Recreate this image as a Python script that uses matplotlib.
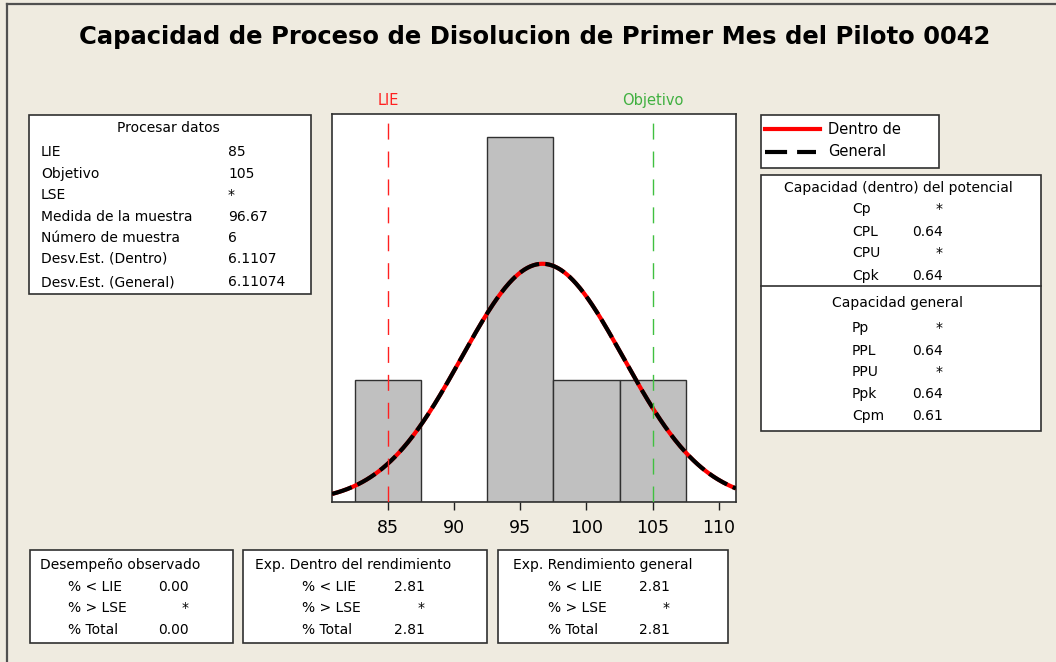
import numpy as np
import matplotlib
matplotlib.use("Agg")
import matplotlib.pyplot as plt
from matplotlib.patches import Rectangle
from matplotlib.lines import Line2D

# --- data ---
bin_edges = [82.5, 87.5, 92.5, 97.5, 102.5, 107.5]
bin_counts = [1, 0, 3, 1, 1]
mean = 96.67
sd_within = 6.1107
sd_overall = 6.11074
n_obs = 6
lie = 85
target = 105
xticks = [85, 90, 95, 100, 105, 110]

process_labels = ["LIE", "Objetivo", "LSE", "Medida de la muestra", "Número de muestra",
                  "Desv.Est. (Dentro)", "Desv.Est. (General)"]
process_values = ["85", "105", "*", "96.67", "6", "6.1107", "6.11074"]

within_labels = ["Cp", "CPL", "CPU", "Cpk"]
within_values = ["*", "0.64", "*", "0.64"]
overall_labels = ["Pp", "PPL", "PPU", "Ppk", "Cpm"]
overall_values = ["*", "0.64", "*", "0.64", "0.61"]

perf_labels = ["% < LIE", "% > LSE", "% Total"]
perf_observed = ["0.00", "*", "0.00"]
perf_within = ["2.81", "*", "2.81"]
perf_overall = ["2.81", "*", "2.81"]

W, H = 1056, 662
BG = "#EFEBE0"
FONT = "DejaVu Sans"
FS = 10


def fx(x):
    return x / W


def fy(y):
    return 1 - y / H


fig = plt.figure(figsize=(W / 100, H / 100), dpi=100, facecolor=BG)

# frame lines (top / left)
fig.add_artist(Line2D([fx(7), 1], [fy(4), fy(4)], color="#505050", lw=1.6))
fig.add_artist(Line2D([fx(7), fx(7)], [fy(4), 0], color="#505050", lw=1.6))

fig.text(fx(535), fy(37), "Capacidad de Proceso de Disolucion de Primer Mes del Piloto 0042",
         ha="center", va="center", fontsize=17.5, fontweight="bold", family=FONT)

# --- histogram ---
ax = fig.add_axes([fx(332), fy(502), fx(736 - 332), (502 - 114) / H])
ax.set_facecolor("white")
widths = np.diff(bin_edges)
ax.bar(bin_edges[:-1], bin_counts, width=widths, align="edge",
       color="#C0C0C0", edgecolor="#303030", linewidth=1.0, zorder=2)

xs = np.linspace(80.77, 111.3, 400)
scale = n_obs * widths[0]
y_in = scale * np.exp(-0.5 * ((xs - mean) / sd_within) ** 2) / (sd_within * np.sqrt(2 * np.pi))
y_ov = scale * np.exp(-0.5 * ((xs - mean) / sd_overall) ** 2) / (sd_overall * np.sqrt(2 * np.pi))
ax.plot(xs, y_in, color="red", lw=3, zorder=3, solid_capstyle="butt")
ax.plot(xs, y_ov, color="black", lw=3, zorder=4, dashes=(5, 1.5))

ax.axvline(lie, color="#FF2020", lw=1, dashes=(11.5, 8.6), zorder=5)
ax.axvline(target, color="#40C040", lw=1, dashes=(11.5, 8.6), zorder=5)
ax.text(lie, 3.24, "LIE", color="#FF2020", ha="center", va="bottom", fontsize=10.5, family=FONT)
ax.text(target, 3.24, "Objetivo", color="#40B040", ha="center", va="bottom", fontsize=10.5,
        family=FONT)

ax.set_xlim(80.77, 111.3)
ax.set_ylim(0, 3.19)
ax.set_yticks([])
ax.set_xticks(xticks)
ax.tick_params(axis="x", labelsize=12.5, length=6, width=1, color="#202020", pad=6)
for s in ax.spines.values():
    s.set_color("#303030")
    s.set_linewidth(1.2)


def box(x0, y0, x1, y1):
    fig.add_artist(Rectangle((fx(x0), fy(y1)), fx(x1 - x0), (y1 - y0) / H,
                             facecolor="white", edgecolor="#303030", lw=1.2))


def txt(x, y, s, ha="left"):
    fig.text(fx(x), fy(y), s, ha=ha, va="center", fontsize=FS, family=FONT)


# --- process data box ---
box(29, 115, 311, 294)
txt(168, 128, "Procesar datos", ha="center")
row_y = [152, 174, 195, 217, 238, 259, 282]
for yy, lab, val in zip(row_y, process_labels, process_values):
    txt(41, yy, lab)
    txt(228, yy, val)

# --- legend ---
box(761, 115, 939, 168)
fig.add_artist(Line2D([fx(765), fx(820)], [fy(129), fy(129)], color="red", lw=3))
fig.add_artist(Line2D([fx(765), fx(816)], [fy(152), fy(152)], color="black", lw=3,
                      dashes=(5.3, 2.4)))
fig.text(fx(828), fy(129), "Dentro de", ha="left", va="center", fontsize=10.5, family=FONT)
fig.text(fx(828), fy(152), "General", ha="left", va="center", fontsize=10.5, family=FONT)

# --- capability box ---
box(761, 175, 1041, 431)
fig.add_artist(Line2D([fx(761), fx(1041)], [fy(286), fy(286)], color="#303030", lw=1.2))
txt(898, 188, "Capacidad (dentro) del potencial", ha="center")
for yy, lab, val in zip([209, 232, 253, 276], within_labels, within_values):
    txt(852, yy, lab)
    txt(943, yy, val, ha="right")
txt(898, 303, "Capacidad general", ha="center")
for yy, lab, val in zip([328, 351, 372, 394, 416], overall_labels, overall_values):
    txt(852, yy, lab)
    txt(943, yy, val, ha="right")

# --- performance boxes ---
perf_boxes = [
    (30, 233, "Desempeño observado", 40, 68, 189, perf_observed),
    (243, 487, "Exp. Dentro del rendimiento", 255, 302, 425, perf_within),
    (498, 728, "Exp. Rendimiento general", 513, 548, 670, perf_overall),
]
for x0, x1, title, tx, lx, vx, vals in perf_boxes:
    box(x0, 550, x1, 643)
    txt(tx, 565, title)
    for yy, lab, val in zip([587, 608, 630], perf_labels, vals):
        txt(lx, yy, lab)
        txt(vx, yy, val, ha="right")

fig.savefig("out.png", dpi=100, facecolor=BG)
